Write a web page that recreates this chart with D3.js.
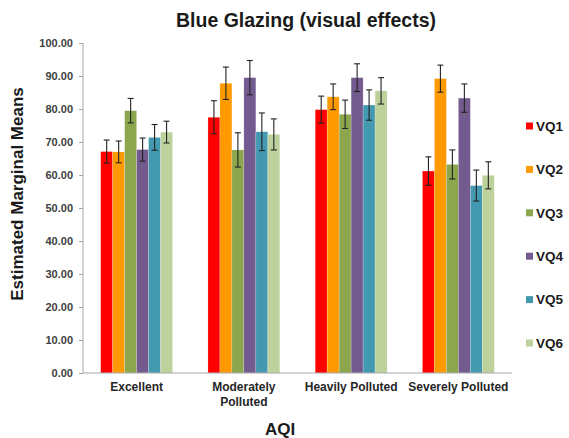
<!DOCTYPE html>
<html>
<head>
<meta charset="utf-8">
<script src="https://cdn.jsdelivr.net/npm/d3@7"></script>
<style>
  body { margin: 0; background: #fff; }
  text { font-family: 'Liberation Sans', Arial, sans-serif; }
</style>
</head>
<body>
<div id="vis"></div>
<script>
var categories = ['Excellent', 'Moderately Polluted', 'Heavily Polluted', 'Severely Polluted'];
var series = ['VQ1', 'VQ2', 'VQ3', 'VQ4', 'VQ5', 'VQ6'];

// estimated marginal means per series, one value per AQI category
var vq1 = [67.1, 77.5, 79.8, 61.2],
	vq2 = [67.0, 87.8, 83.7, 89.2],
	vq3 = [79.5, 67.6, 78.4, 63.2],
	vq4 = [67.7, 89.5, 89.5, 83.3],
	vq5 = [71.4, 73.1, 81.2, 56.8],
	vq6 = [73.0, 72.3, 85.5, 59.9];

// error bar half widths
var err1 = [3.5, 5.0, 4.1, 4.3],
	err2 = [3.3, 4.9, 3.9, 4.1],
	err3 = [3.7, 5.2, 4.3, 4.4],
	err4 = [3.5, 5.2, 4.2, 4.3],
	err5 = [3.9, 5.7, 4.6, 4.7],
	err6 = [3.3, 4.7, 4.0, 4.1];

var yTicks = [0, 10, 20, 30, 40, 50, 60, 70, 80, 90, 100];

var means = [vq1, vq2, vq3, vq4, vq5, vq6],
	errs = [err1, err2, err3, err4, err5, err6];

var width = 569,
	height = 438;

var margin = { left: 83, right: 57, top: 43, bottom: 65 };

var drawWidth = width - margin.left - margin.right,
	drawHeight = height - margin.top - margin.bottom;

var color = d3.scaleOrdinal()
	.domain(series)
	.range(['#ff0000', '#ff9900', '#8ba64d', '#735a8f', '#4399b0', '#bcd19b']);

var svg = d3.select('#vis')
	.append('svg')
	.attr('width', width)
	.attr('height', height);

var g = svg.append('g')
	.attr('transform', 'translate(' + margin.left + ',' + margin.top + ')');

var x0 = d3.scaleBand()
	.domain(categories)
	.range([0, drawWidth]);

var groupPad = x0.bandwidth() * 0.165;

var x1 = d3.scaleBand()
	.domain(series)
	.range([groupPad, x0.bandwidth() - groupPad]);

var yScale = d3.scaleLinear()
	.domain([0, 100])
	.range([drawHeight, 0]);

// rows: one per category x series
var rows = [];
categories.forEach(function(c, i) {
	series.forEach(function(s, j) {
		rows.push({ cat: c, key: s, value: means[j][i], err: errs[j][i] });
	});
});

g.selectAll('.bar')
	.data(rows)
	.enter().append('rect')
	.attr('class', 'bar')
	.attr('x', function(d) { return x0(d.cat) + x1(d.key); })
	.attr('y', function(d) { return yScale(d.value); })
	.attr('width', x1.bandwidth())
	.attr('height', function(d) { return drawHeight - yScale(d.value); })
	.attr('fill', function(d) { return color(d.key); })
	.attr('stroke', 'rgba(255,255,255,0.35)')
	.attr('stroke-width', 0.6);

// error bars
var eb = g.selectAll('.err')
	.data(rows)
	.enter().append('g')
	.attr('class', 'err')
	.attr('stroke', '#222')
	.attr('stroke-width', 1.1);

var cx = function(d) { return x0(d.cat) + x1(d.key) + x1.bandwidth() / 2; };

eb.append('line')
	.attr('x1', cx).attr('x2', cx)
	.attr('y1', function(d) { return yScale(d.value + d.err); })
	.attr('y2', function(d) { return yScale(d.value - d.err); });

eb.append('line')
	.attr('x1', function(d) { return cx(d) - 3; })
	.attr('x2', function(d) { return cx(d) + 3; })
	.attr('y1', function(d) { return yScale(d.value + d.err); })
	.attr('y2', function(d) { return yScale(d.value + d.err); });

eb.append('line')
	.attr('x1', function(d) { return cx(d) - 3; })
	.attr('x2', function(d) { return cx(d) + 3; })
	.attr('y1', function(d) { return yScale(d.value - d.err); })
	.attr('y2', function(d) { return yScale(d.value - d.err); });

// axes
var yAxis = d3.axisLeft(yScale)
	.tickValues(yTicks)
	.tickSize(4)
	.tickPadding(6)
	.tickFormat(d3.format('.2f'));

var yAxisG = g.append('g').call(yAxis);
yAxisG.select('.domain').attr('stroke', '#a6a6a6').attr('d', 'M0,0V' + drawHeight);
yAxisG.selectAll('.tick line').attr('stroke', '#a6a6a6');
yAxisG.selectAll('.tick text')
	.attr('font-size', 11)
	.attr('font-weight', 'bold')
	.attr('fill', '#404040');

var xAxis = d3.axisBottom(x0).tickSize(0).tickFormat('');
var xAxisG = g.append('g')
	.attr('transform', 'translate(0,' + drawHeight + ')')
	.call(xAxis);
xAxisG.select('.domain').attr('stroke', '#a6a6a6').attr('d', 'M0,0H' + drawWidth);

// category labels, two lines where needed
var catLines = {
	'Excellent': ['Excellent'],
	'Moderately Polluted': ['Moderately', 'Polluted'],
	'Heavily Polluted': ['Heavily Polluted'],
	'Severely Polluted': ['Severely Polluted']
};

categories.forEach(function(c) {
	var t = g.append('text')
		.attr('x', x0(c) + x0.bandwidth() / 2)
		.attr('y', drawHeight + 18)
		.attr('text-anchor', 'middle')
		.attr('font-size', 12)
		.attr('font-weight', 'bold')
		.attr('fill', '#262626');
	catLines[c].forEach(function(line, i) {
		t.append('tspan')
			.attr('x', x0(c) + x0.bandwidth() / 2)
			.attr('dy', i === 0 ? 0 : 15)
			.text(line);
	});
});

// titles
svg.append('text')
	.attr('x', 306)
	.attr('y', 27)
	.attr('text-anchor', 'middle')
	.attr('font-size', 19.5)
	.attr('font-weight', 'bold')
	.attr('fill', '#1a1a1a')
	.text('Blue Glazing (visual effects)');

svg.append('text')
	.attr('transform', 'translate(23,194) rotate(-90)')
	.attr('text-anchor', 'middle')
	.attr('font-size', 17)
	.attr('font-weight', 'bold')
	.attr('fill', '#1a1a1a')
	.text('Estimated Marginal Means');

svg.append('text')
	.attr('x', 280)
	.attr('y', 435)
	.attr('text-anchor', 'middle')
	.attr('font-size', 17)
	.attr('font-weight', 'bold')
	.attr('fill', '#1a1a1a')
	.text('AQI');

// legend
var legend = svg.append('g')
	.selectAll('g')
	.data(series)
	.enter().append('g')
	.attr('transform', function(d, i) { return 'translate(526,' + (126 + i * 43.4) + ')'; });

legend.append('rect')
	.attr('x', 0)
	.attr('y', -3.5)
	.attr('width', 7)
	.attr('height', 7)
	.attr('fill', color);

legend.append('text')
	.attr('x', 10)
	.attr('y', 0)
	.attr('dy', '0.36em')
	.attr('font-size', 13.5)
	.attr('font-weight', 'bold')
	.attr('fill', '#1a1a1a')
	.text(function(d) { return d; });
</script>
</body>
</html>
